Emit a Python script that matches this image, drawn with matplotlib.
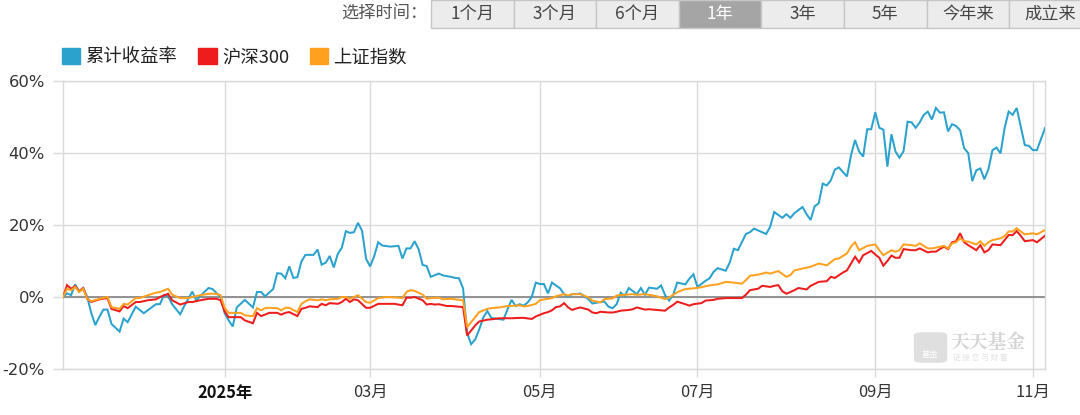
import matplotlib
matplotlib.use('Agg')
import matplotlib.pyplot as plt
from matplotlib.patches import Patch, Rectangle, FancyBboxPatch

CJK = ['Noto Sans CJK SC', 'DejaVu Sans']
plt.rcParams['font.family'] = CJK

# ---------------- data ----------------
series_names = ['累计收益率', '沪深300', '上证指数']

fund_days = [0, 1, 2, 3, 4, 5, 6, 7, 8, 9, 10, 11, 12, 14, 15, 16, 18, 20, 23, 24, 25, 26, 27, 29, 30,
             32, 33, 34, 36, 37, 39, 40, 41, 42, 43, 45, 47, 48, 49, 50, 52, 53, 54, 55, 56, 57, 58, 59,
             60, 62, 63, 64, 65, 66, 67, 68, 69, 70, 71, 72, 73, 74, 75, 76, 77, 78, 79, 81, 83, 84, 85,
             86, 87, 88, 89, 90, 91, 93, 94, 96, 97, 98, 99, 100, 101, 102, 103, 104, 105, 106, 107, 109,
             110, 111, 112, 113, 114, 115, 116, 117, 118, 119, 120, 121, 123, 124, 125, 126, 127, 128,
             130, 131, 133, 134, 135, 136, 137, 138, 139, 140, 142, 143, 144, 145, 147, 148, 149, 150,
             151, 152, 154, 155, 156, 157, 159, 160, 161, 162, 164, 165, 166, 167, 169, 170, 171, 172,
             173, 174, 175, 176, 178, 179, 180, 181, 183, 184, 185, 186, 187, 188, 189, 190, 191, 192,
             193, 194, 195, 196, 197, 198, 199, 200, 201, 202, 203, 204, 205, 206, 207, 208, 209, 210,
             211, 212, 213, 214, 215, 216, 217, 218, 219, 220, 221, 222, 223, 224, 225, 226, 227, 228,
             229, 230, 231, 232, 233, 234, 235, 236, 237, 238, 239, 240, 241, 243]
fund_vals = [0.0, 1.0, 0.5, 3.5, 1.5, 2.5, 0.0, -4.5, -7.8, -5.5, -3.5, -3.5, -7.5, -9.6, -6.0, -7.0,
             -2.7, -4.5, -2.0, -2.0, 0.6, 0.2, -2.0, -4.8, -2.5, 1.5, -1.0, 0.3, 2.5, 2.2, 0.0, -4.5,
             -6.5, -8.2, -2.9, -0.8, -2.9, 1.4, 1.4, 0.2, 2.2, 6.6, 6.5, 5.2, 8.5, 5.3, 5.5, 9.9, 11.7,
             11.7, 13.2, 9.0, 9.5, 11.4, 8.2, 12.0, 13.7, 18.3, 17.8, 18.0, 20.6, 18.4, 10.6, 8.5, 11.3,
             15.2, 14.3, 14.0, 14.2, 10.7, 13.5, 13.5, 15.5, 13.3, 8.9, 8.6, 5.6, 6.5, 6.0, 5.6, 5.3,
             5.2, 2.4, -10.0, -13.1, -11.8, -9.0, -5.7, -3.9, -5.8, -6.0, -6.3, -3.4, -0.8, -2.5, -2.0,
             -2.4, -1.5, 0.0, 4.0, 3.6, 3.6, 1.0, 4.0, 2.4, 0.8, 0.0, 0.8, 0.8, 1.0, -0.6, -1.8, -1.4,
             -1.3, -2.7, -3.1, -2.0, 1.2, 0.3, 2.5, 0.8, 2.5, 0.6, 2.6, 2.3, 3.2, 0.5, -1.0, 0.6, 4.0,
             3.5, 5.1, 6.3, 2.8, 4.5, 5.2, 7.0, 8.0, 7.3, 9.6, 13.4, 13.0, 17.5, 18.0, 19.0, 18.5, 18.0,
             17.5, 19.5, 23.6, 22.0, 23.0, 22.0, 23.3, 25.0, 23.0, 21.4, 25.2, 26.0, 31.5, 31.0, 32.4,
             35.4, 36.0, 34.7, 33.5, 39.4, 43.6, 40.4, 39.0, 46.6, 46.6, 51.3, 47.0, 46.5, 36.2, 45.2,
             40.4, 38.7, 40.5, 48.7, 48.5, 47.0, 48.5, 50.6, 51.5, 49.3, 52.5, 51.2, 51.3, 46.0, 48.0,
             47.5, 46.3, 41.3, 40.0, 32.2, 35.2, 35.7, 32.7, 35.5, 40.8, 41.5, 39.9, 46.9, 51.5, 50.6,
             52.5, 47.4, 42.2, 42.0, 40.8, 40.8, 46.9]

hs300_days = [0, 1, 2, 3, 4, 5, 6, 7, 9, 11, 12, 14, 15, 16, 18, 19, 21, 23, 24, 26, 27, 29, 31, 32,
              34, 36, 38, 39, 40, 41, 42, 44, 45, 47, 48, 49, 50, 51, 53, 54, 55, 56, 58, 59, 60, 61,
              63, 64, 65, 66, 68, 69, 70, 71, 72, 73, 75, 76, 78, 80, 82, 84, 85, 86, 87, 89, 90, 91,
              92, 93, 95, 96, 97, 99, 100, 101, 102, 103, 105, 106, 108, 110, 111, 113, 114, 116, 117,
              119, 120, 121, 122, 123, 124, 125, 126, 127, 128, 130, 131, 132, 133, 135, 136, 137, 138,
              140, 141, 142, 144, 145, 146, 147, 149, 150, 151, 152, 154, 155, 156, 158, 159, 161, 162,
              164, 166, 168, 169, 170, 172, 173, 175, 176, 177, 178, 179, 181, 182, 184, 185, 187, 189,
              190, 191, 193, 194, 196, 197, 198, 200, 201, 202, 203, 204, 205, 206, 207, 208, 210, 211,
              212, 214, 215, 216, 218, 219, 220, 221, 222, 223, 224, 226, 227, 228, 229, 230, 232, 233,
              234, 235, 236, 237, 238, 240, 241, 243]
hs300_vals = [0.0, 3.3, 2.3, 3.0, 1.6, 2.5, -0.5, -1.4, -0.65, -0.3, -3.3, -4.0, -2.5, -3.1, -1.4,
              -1.4, -0.9, -0.65, 0.0, 0.9, -0.9, -2.1, -1.4, -1.4, -0.9, -0.5, -0.5, -0.9, -4.0, -5.6,
              -5.6, -5.6, -6.5, -7.3, -4.4, -5.3, -4.9, -4.4, -4.4, -4.9, -4.4, -4.2, -5.3, -3.3, -3.0,
              -2.6, -2.8, -1.9, -2.3, -1.7, -1.9, -1.4, -0.5, -1.4, -0.65, -0.9, -3.0, -3.0, -1.9, -1.9,
              -1.9, -2.3, -0.2, -0.2, 0.0, -0.9, -2.1, -1.9, -2.1, -2.0, -2.5, -2.5, -2.6, -2.8, -10.7,
              -9.3, -7.9, -6.8, -6.3, -6.2, -5.9, -5.9, -5.9, -5.8, -5.8, -6.1, -5.4, -4.5, -4.2, -3.7,
              -2.8, -2.6, -1.7, -2.9, -3.6, -3.2, -2.9, -3.5, -4.3, -4.5, -4.1, -4.3, -4.3, -4.1, -3.8,
              -3.6, -3.4, -2.9, -3.5, -3.4, -3.5, -3.6, -3.8, -2.9, -2.2, -1.3, -2.0, -2.4, -2.0, -1.7,
              -1.0, -0.8, -0.5, -0.3, -0.3, -0.3, 0.65, 1.9, 2.3, 3.1, 2.8, 3.1, 3.3, 1.6, 0.9, 1.9, 2.5,
              2.1, 3.1, 4.2, 4.4, 5.6, 5.3, 6.8, 7.4, 11.2, 9.6, 11.6, 12.8, 11.8, 10.9, 8.7, 10.0, 11.5,
              10.9, 10.9, 13.3, 13.0, 13.0, 13.5, 12.4, 12.6, 12.6, 14.0, 13.3, 15.2, 15.5, 17.7, 15.2,
              14.4, 13.0, 14.4, 12.4, 13.0, 14.6, 14.4, 15.8, 17.2, 17.2, 18.3, 17.0, 15.5, 15.8, 15.2,
              17.0]

sh_days = [0, 1, 2, 3, 4, 5, 6, 7, 9, 11, 12, 14, 15, 16, 18, 19, 21, 23, 24, 26, 27, 29, 31, 32, 34,
           36, 38, 39, 40, 41, 42, 44, 45, 47, 48, 49, 50, 51, 53, 54, 55, 56, 58, 59, 60, 61, 63, 64,
           65, 66, 68, 69, 70, 71, 73, 75, 76, 78, 80, 82, 84, 85, 86, 87, 89, 90, 91, 93, 94, 96, 97,
           99, 100, 101, 102, 103, 105, 106, 108, 110, 111, 113, 114, 115, 117, 118, 119, 121, 122, 124,
           125, 126, 128, 130, 131, 133, 134, 136, 137, 139, 141, 142, 144, 146, 147, 149, 150, 152,
           153, 154, 156, 158, 159, 161, 162, 164, 166, 168, 169, 170, 172, 174, 175, 177, 179, 180,
           181, 183, 185, 187, 189, 191, 192, 194, 195, 196, 197, 199, 201, 202, 203, 205, 206, 207,
           208, 210, 211, 212, 214, 215, 216, 218, 219, 220, 221, 222, 223, 224, 226, 227, 228, 229,
           230, 232, 233, 234, 235, 236, 237, 238, 240, 241, 243]
sh_vals = [0.0, 2.3, 1.9, 2.8, 1.4, 2.3, -0.5, -1.2, -0.5, 0.0, -2.8, -3.3, -1.9, -2.1, -0.3, -0.3,
           0.5, 1.2, 1.4, 2.3, 0.65, -0.3, -0.3, 0.0, 0.5, 0.9, 0.9, 0.5, -3.0, -4.4, -4.4, -4.4, -5.1,
           -5.3, -3.1, -3.7, -3.1, -3.0, -3.1, -3.7, -3.0, -3.0, -4.2, -1.9, -1.2, -0.65, -0.9, -0.65,
           -0.9, -0.65, -0.5, 0.0, 0.0, -0.5, 0.5, -1.4, -1.6, -0.3, 0.0, -0.1, -0.3, 1.4, 1.9, 1.7,
           0.65, -0.5, -0.3, -0.2, -0.65, -0.5, -0.65, -0.9, -8.4, -7.0, -5.6, -4.2, -3.3, -3.1, -2.9,
           -2.5, -2.5, -2.3, -2.6, -2.5, -1.9, -0.9, -0.7, -0.3, 0.2, 0.8, 0.4, 0.8, 0.8, -0.1, -1.0,
           -1.5, -0.6, -0.4, 0.4, 0.6, 0.8, 0.6, 0.8, 0.4, 0.2, -0.6, -0.1, 1.3, 1.8, 2.2, 2.4, 2.7,
           3.0, 3.4, 3.5, 4.2, 4.0, 3.7, 4.7, 5.9, 6.2, 6.8, 6.5, 7.2, 5.6, 6.1, 7.4, 7.9, 8.4, 9.3,
           8.8, 10.5, 10.7, 12.1, 14.0, 15.2, 13.0, 14.2, 14.6, 13.0, 11.6, 13.0, 12.6, 13.0, 14.6,
           14.4, 14.2, 14.9, 13.5, 13.5, 13.7, 14.2, 13.5, 14.9, 15.2, 16.3, 15.5, 15.4, 14.6, 15.5,
           14.2, 15.2, 15.8, 16.3, 16.9, 18.2, 18.2, 19.1, 18.2, 17.4, 17.7, 17.4, 18.6]

tick_days = [40, 76, 118, 157, 201, 240]
tick_labels = ['2025年', '03月', '05月', '07月', '09月', '11月']
y_ticks = [-20, 0, 20, 40, 60]
y_labels = ['-20%', '0%', '20%', '40%', '60%']
period_tabs = ['1个月', '3个月', '6个月', '1年', '3年', '5年', '今年来', '成立来']
selected_tab = '1年'

# ---------------- style ----------------
colors = ['#2aa2cd', '#ee1c1c', '#ffa11f']
grid_c = '#d9d9d9'
W, H = 1080, 415

fig = plt.figure(figsize=(W / 100, H / 100), dpi=100)
fig.patch.set_facecolor('white')

def fx(px):
    return px / W

def fy(py):
    return 1 - py / H

ax = fig.add_axes([fx(63), fy(369), fx(1045) - fx(63), fy(81) - fy(369)])

for d, v, c in zip([fund_days, hs300_days, sh_days], [fund_vals, hs300_vals, sh_vals], colors):
    ax.plot(d, v, color=c, lw=1.45, solid_joinstyle='miter', zorder=3)

ax.axhline(0, color='#8a8a8a', lw=1.3, zorder=2)
ax.set_xlim(0, 243)
ax.set_ylim(-20, 60)
ax.set_yticks(y_ticks)
ax.set_yticklabels(y_labels, family='DejaVu Sans', fontsize=11.8, color='#333333')
ax.set_xticks(tick_days)
ax.set_xticklabels(tick_labels, fontsize=11.8, color='#333333')
for lab in ax.get_xticklabels():
    if lab.get_text() == '2025年':
        lab.set_fontweight('bold')
        lab.set_color('#111111')
ax.tick_params(axis='x', length=6, width=1, color=grid_c, pad=5)
ax.tick_params(axis='y', length=7, width=1, color=grid_c, pad=6)
ax.grid(True, color=grid_c, lw=1, zorder=1)
for s in ax.spines.values():
    s.set_color(grid_c)
    s.set_linewidth(1)

# legend
handles = [Patch(facecolor=c, edgecolor=c) for c in colors]
leg = fig.legend(handles, series_names, loc='center left', bbox_to_anchor=(fx(62), fy(57)),
                 ncol=3, frameon=False, fontsize=13.2, handlelength=1.0, handleheight=1.0,
                 handletextpad=0.28, columnspacing=1.15, borderpad=0, borderaxespad=0)
for t in leg.get_texts():
    t.set_color('#222222')

# period selector bar
fig.text(fx(427), fy(14), '选择时间：', ha='right', va='center', fontsize=12.4, color='#555555')
tab_left, tab_w, tab_h = 431, 82.6, 28
for i, name in enumerate(period_tabs):
    sel = name == selected_tab
    x0 = tab_left + i * tab_w
    fig.patches.append(Rectangle((fx(x0), fy(tab_h)), tab_w / W, tab_h / H, transform=fig.transFigure,
                                 facecolor='#a5a5a5' if sel else '#ececec', edgecolor='#c6c6c6', lw=1))
    fig.text(fx(x0 + tab_w / 2), fy(14), name, ha='center', va='center', fontsize=12.4,
             color='white' if sel else '#444444')

# watermark
fig.patches.append(FancyBboxPatch((fx(916), fy(362)), 29 / W, 29 / H, transform=fig.transFigure,
                                  boxstyle='round,pad=0.002,rounding_size=0.008',
                                  facecolor='#dadada', edgecolor='none', alpha=0.85))
fig.text(fx(930.5), fy(354), '基金', ha='center', va='center', fontsize=6, color='white')
fig.text(fx(950), fy(343), '天天基金', ha='left', va='center', fontsize=13.5, color='#d4d4d4',
         fontweight='bold', family=['Noto Serif CJK SC', 'Noto Sans CJK SC', 'DejaVu Sans'])
fig.text(fx(953), fy(358), '链 接 您 与 财 富', ha='left', va='center', fontsize=5.5, color='#e2e2e2')

fig.savefig('out.png', dpi=100, facecolor='white')
